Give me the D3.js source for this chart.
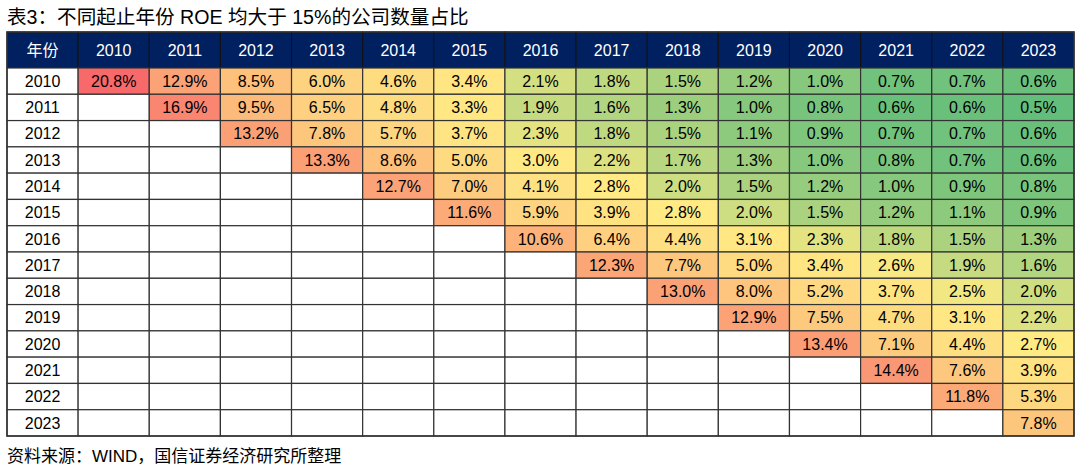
<!DOCTYPE html>
<html><head><meta charset="utf-8">
<script src="https://cdn.jsdelivr.net/npm/d3@7/dist/d3.min.js"></script>
<style>
html,body{margin:0;padding:0;background:#fff;}
svg{display:block;}
</style></head>
<body>
<svg id="chart" width="1080" height="468"></svg>
<script>
const title = "表3：不同起止年份 ROE 均大于 15%的公司数量占比";
const source = "资料来源：WIND，国信证券经济研究所整理";
const cornerLabel = "年份";
const years = ["2010","2011","2012","2013","2014","2015","2016","2017","2018","2019","2020","2021","2022","2023"];
// each row: values starting at the column of the same year
const row2010 = [20.8,12.9,8.5,6.0,4.6,3.4,2.1,1.8,1.5,1.2,1.0,0.7,0.7,0.6];
const row2011 = [16.9,9.5,6.5,4.8,3.3,1.9,1.6,1.3,1.0,0.8,0.6,0.6,0.5];
const row2012 = [13.2,7.8,5.7,3.7,2.3,1.8,1.5,1.1,0.9,0.7,0.7,0.6];
const row2013 = [13.3,8.6,5.0,3.0,2.2,1.7,1.3,1.0,0.8,0.7,0.6];
const row2014 = [12.7,7.0,4.1,2.8,2.0,1.5,1.2,1.0,0.9,0.8];
const row2015 = [11.6,5.9,3.9,2.8,2.0,1.5,1.2,1.1,0.9];
const row2016 = [10.6,6.4,4.4,3.1,2.3,1.8,1.5,1.3];
const row2017 = [12.3,7.7,5.0,3.4,2.6,1.9,1.6];
const row2018 = [13.0,8.0,5.2,3.7,2.5,2.0];
const row2019 = [12.9,7.5,4.7,3.1,2.2];
const row2020 = [13.4,7.1,4.4,2.7];
const row2021 = [14.4,7.6,3.9];
const row2022 = [11.8,5.3];
const row2023 = [7.8];
const rows = [row2010,row2011,row2012,row2013,row2014,row2015,row2016,row2017,row2018,row2019,row2020,row2021,row2022,row2023];

const cells = [];
rows.forEach((r,i)=>{
  years.forEach((c,j)=>{
    const k = j - i;
    cells.push({row: years[i], col: c, v: (k>=0 && k<r.length) ? r[k] : null});
  });
});
const allVals = cells.filter(d=>d.v!=null).map(d=>d.v).sort(d3.ascending);
const vMin = d3.min(allVals), vMax = d3.max(allVals), vMid = d3.quantile(allVals, 0.5);
const color = d3.scaleLinear().domain([vMin, vMid, vMax])
  .range(["#63BE7B","#FFEB84","#F8696B"]).interpolate(d3.interpolateRgb);

const svg = d3.select("#chart");
const fontLatin = "'Liberation Sans', Arial, 'Noto Sans CJK SC', sans-serif";
const fontCJK = "'Liberation Sans', 'Noto Sans CJK SC', sans-serif";

const x = d3.scaleBand().domain([cornerLabel, ...years]).range([7, 1074]);
const y = d3.scaleBand().domain(years).range([68, 436]);
const headerTop = 32, headerBottom = 68;

svg.append("text").attr("x", 7).attr("y", 24)
  .attr("font-family", fontCJK).attr("font-size", 19.6).attr("fill", "#000")
  .text(title);

// header
const hdr = svg.append("g");
hdr.selectAll("rect").data(x.domain()).join("rect")
  .attr("x", d=>x(d)).attr("y", headerTop).attr("width", x.bandwidth()).attr("height", headerBottom-headerTop)
  .attr("fill", "#002060").attr("stroke", "#111").attr("stroke-width", 1);
hdr.selectAll("text").data(x.domain()).join("text")
  .attr("x", d=>x(d)+x.bandwidth()/2).attr("y", (headerTop+headerBottom)/2)
  .attr("dy", "0.36em").attr("text-anchor", "middle")
  .attr("font-family", fontCJK).attr("font-size", 16).attr("fill", "#fff")
  .text(d=>d);

// row labels
const lab = svg.append("g");
lab.selectAll("rect").data(years).join("rect")
  .attr("x", x(cornerLabel)).attr("y", d=>y(d)).attr("width", x.bandwidth()).attr("height", y.bandwidth())
  .attr("fill", "#fff").attr("stroke", "#333").attr("stroke-width", 1.2);
lab.selectAll("text").data(years).join("text")
  .attr("x", x(cornerLabel)+x.bandwidth()/2).attr("y", d=>y(d)+y.bandwidth()/2)
  .attr("dy", "0.36em").attr("text-anchor", "middle")
  .attr("font-family", fontLatin).attr("font-size", 16).attr("fill", "#000")
  .text(d=>d);

// cells
const body = svg.append("g");
body.selectAll("rect").data(cells).join("rect")
  .attr("x", d=>x(d.col)).attr("y", d=>y(d.row)).attr("width", x.bandwidth()).attr("height", y.bandwidth())
  .attr("fill", d=>d.v==null ? "#fff" : color(d.v)).attr("stroke", "#333").attr("stroke-width", 1.2);
body.selectAll("text").data(cells.filter(d=>d.v!=null)).join("text")
  .attr("x", d=>x(d.col)+x.bandwidth()/2).attr("y", d=>y(d.row)+y.bandwidth()/2)
  .attr("dy", "0.36em").attr("text-anchor", "middle")
  .attr("font-family", fontLatin).attr("font-size", 16).attr("fill", "#000")
  .text(d=>d.v.toFixed(1)+"%");

// outer border
svg.append("rect").attr("x", 7).attr("y", headerTop).attr("width", 1074-7).attr("height", 436-headerTop)
  .attr("fill", "none").attr("stroke", "#333").attr("stroke-width", 1.5);

svg.append("text").attr("x", 7).attr("y", 462)
  .attr("font-family", fontCJK).attr("font-size", 17).attr("fill", "#000")
  .text(source);
</script>
</body></html>
